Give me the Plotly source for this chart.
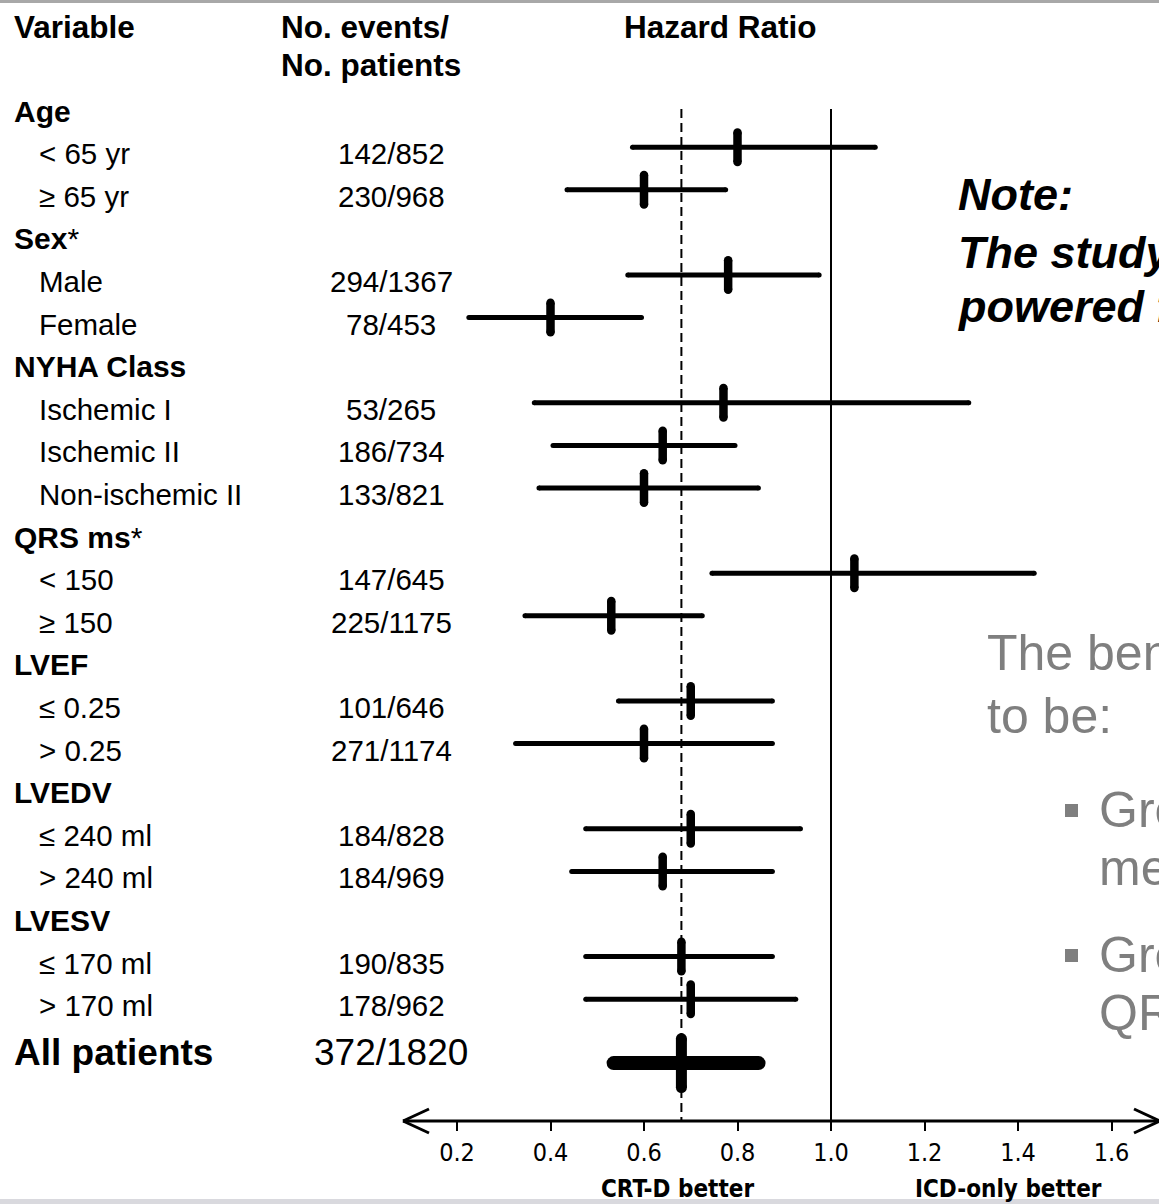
import plotly.graph_objects as go

# ---------------- data ----------------
group_names = ["Age", "Sex", "NYHA Class", "QRS ms", "LVEF", "LVEDV", "LVESV"]
group_flags = ["", "*", "", "*", "", "", ""]          # significant interaction
group_sizes = [2, 2, 3, 2, 2, 2, 2]

subgroups = ["< 65 yr", "≥ 65 yr", "Male", "Female", "Ischemic I", "Ischemic II",
             "Non-ischemic II", "< 150", "≥ 150", "≤ 0.25", "> 0.25",
             "≤ 240 ml", "> 240 ml", "≤ 170 ml", "> 170 ml"]
events = [142, 230, 294, 78, 53, 186, 133, 147, 225, 101, 271, 184, 184, 190, 178]
patients = [852, 968, 1367, 453, 265, 734, 821, 645, 1175, 646, 1174, 828, 969, 835, 962]
hazard_ratio = [0.80, 0.60, 0.78, 0.40, 0.77, 0.64, 0.60, 1.05, 0.53, 0.70, 0.60,
                0.70, 0.64, 0.68, 0.70]
ci_low = [0.57, 0.43, 0.56, 0.22, 0.36, 0.40, 0.37, 0.74, 0.34, 0.54, 0.32,
          0.47, 0.44, 0.47, 0.47]
ci_high = [1.10, 0.78, 0.98, 0.60, 1.30, 0.80, 0.85, 1.44, 0.73, 0.88, 0.88,
           0.94, 0.88, 0.88, 0.93]

overall_label = "All patients"
overall_events = 372
overall_patients = 1820
overall_hr = 0.68
overall_low = 0.52
overall_high = 0.86

tick_values = [0.2, 0.4, 0.6, 0.8, 1.0, 1.2, 1.4, 1.6]
tick_labels = ["0.2", "0.4", "0.6", "0.8", "1.0", "1.2", "1.4", "1.6"]

# ---------------- geometry ----------------
W, H = 1159, 1204
AXIS_Y = 1121                  # pixel row of the hazard-ratio axis
ROW_TOP, ROW_STEP = 111, 42.6  # first table row and row pitch (px)
ONE_X, UNIT_PX = 831, 467.5    # pixel column of HR = 1 and px per HR unit
MARK_SHIFT = -0.15             # CI bars sit a little above the text rows
BAR_HALF = 19 / ROW_STEP       # half height of the estimate tick

SANS = "Liberation Sans, Arial, sans-serif"
NARROW = "DejaVu Sans Condensed, Liberation Sans Narrow, Arial Narrow, sans-serif"
GREY = "#7f7f7f"


def px_x(p):
    return p / W


def px_y(p):
    return (AXIS_Y - p) / AXIS_Y


# assign table rows
group_rows, sub_rows = [], []
row = 0
for n in group_sizes:
    group_rows.append(row)
    row += 1
    for _ in range(n):
        sub_rows.append(row)
        row += 1
overall_row = row

fig = go.Figure()


def rounded_segment(xs, ys, width, horizontal):
    """Thick black segments with round end caps (line + cap dots)."""
    lx, ly, dx, dy = [], [], [], []
    for (a, b), y in zip(xs, ys):
        if horizontal:
            r = width / 2 / UNIT_PX
            a2, b2 = a + r, b - r
            lx += [a2, b2, None]
            ly += [y, y, None]
            dx += [a2, b2]
            dy += [y, y]
        else:
            r = width / 2 / ROW_STEP
            y0, y1 = b[0] + r, b[1] - r
            lx += [a, a, None]
            ly += [y0, y1, None]
            dx += [a, a]
            dy += [y0, y1]
    fig.add_trace(go.Scatter(x=lx, y=ly, mode="lines",
                             line=dict(color="black", width=width), hoverinfo="skip"))
    fig.add_trace(go.Scatter(x=dx, y=dy, mode="markers",
                             marker=dict(color="black", size=width, line=dict(width=0)),
                             hoverinfo="skip"))


# confidence intervals
rounded_segment(list(zip(ci_low, ci_high)), [r + MARK_SHIFT for r in sub_rows],
                5, horizontal=True)
# point estimates as short vertical bars
rounded_segment([(h, (r + MARK_SHIFT - BAR_HALF, r + MARK_SHIFT + BAR_HALF))
                 for h, r in zip(hazard_ratio, sub_rows)],
                [None] * len(sub_rows), 8.5, horizontal=False)

# overall estimate
ov_y = overall_row + 0.35
ov_half = 30 / ROW_STEP
rounded_segment([(overall_low, overall_high)], [ov_y], 14, horizontal=True)
rounded_segment([(overall_hr, (ov_y - ov_half, ov_y + ov_half))], [None], 11,
                horizontal=False)

y_bottom = (AXIS_Y - ROW_TOP) / ROW_STEP
y_top = -ROW_TOP / ROW_STEP
line_top = (109 - ROW_TOP) / ROW_STEP

shapes = [
    # line of no effect
    dict(type="line", xref="x", yref="y", x0=1.0, x1=1.0, y0=line_top, y1=y_bottom,
         line=dict(color="black", width=2), layer="below"),
    # overall hazard ratio reference
    dict(type="line", xref="x", yref="y", x0=overall_hr, x1=overall_hr,
         y0=line_top, y1=y_bottom,
         line=dict(color="black", width=2, dash="9px,5px"), layer="below"),
    # axis line with arrows at both ends
    dict(type="line", xref="paper", yref="paper", x0=px_x(403), x1=px_x(1160),
         y0=0, y1=0, line=dict(color="black", width=3)),
    dict(type="line", xref="paper", yref="paper", x0=px_x(403), x1=px_x(429),
         y0=0, y1=12 / AXIS_Y, line=dict(color="black", width=3)),
    dict(type="line", xref="paper", yref="paper", x0=px_x(403), x1=px_x(429),
         y0=0, y1=-12 / AXIS_Y, line=dict(color="black", width=3)),
    dict(type="line", xref="paper", yref="paper", x0=px_x(1160), x1=px_x(1134),
         y0=0, y1=12 / AXIS_Y, line=dict(color="black", width=3)),
    dict(type="line", xref="paper", yref="paper", x0=px_x(1160), x1=px_x(1134),
         y0=0, y1=-12 / AXIS_Y, line=dict(color="black", width=3)),
    # slide frame strips
    dict(type="rect", xref="paper", yref="paper", x0=0, x1=1, y0=px_y(0), y1=px_y(3),
         fillcolor="#a8a8a8", line=dict(width=0)),
    dict(type="rect", xref="paper", yref="paper", x0=0, x1=1, y0=px_y(1199),
         y1=px_y(1204), fillcolor="#d9d9de", line=dict(width=0)),
    # bullet squares
    dict(type="rect", xref="paper", yref="paper", x0=px_x(1065), x1=px_x(1078),
         y0=px_y(804), y1=px_y(817), fillcolor=GREY, line=dict(width=0)),
    dict(type="rect", xref="paper", yref="paper", x0=px_x(1065), x1=px_x(1078),
         y0=px_y(949), y1=px_y(962), fillcolor=GREY, line=dict(width=0)),
]

ann = []


def text(t, x, y, size, yref="y", xanchor="left", color="black", family=SANS):
    ann.append(dict(text=t, x=x, y=y, xref="paper", yref=yref, xanchor=xanchor,
                    yanchor="middle", showarrow=False,
                    font=dict(family=family, size=size, color=color)))


BODY = 29.5
HEAD = 31.5
GROUP = 30
# column headers
text("<b>Variable</b>", px_x(12), px_y(27), HEAD, yref="paper")
text("<b>No. events/</b>", px_x(279), px_y(27), HEAD, yref="paper")
text("<b>No. patients</b>", px_x(279), px_y(65), HEAD, yref="paper")
text("<b>Hazard Ratio</b>", px_x(720), px_y(27), HEAD, yref="paper", xanchor="center")

for name, flag, r in zip(group_names, group_flags, group_rows):
    text(f"<b>{name}</b>{flag}", px_x(12), r, GROUP)
for name, ev, n, r in zip(subgroups, events, patients, sub_rows):
    text(name, px_x(37), r, BODY)
    text(f"{ev}/{n}", px_x(391), r, BODY, xanchor="center")

text(f"<b>{overall_label}</b>", px_x(12), overall_row + 0.1, 37)
text(f"{overall_events}/{overall_patients}", px_x(391), overall_row + 0.1, 37,
     xanchor="center")

# axis captions
text("<b>CRT-D better</b>", px_x(677), px_y(1189), 24, yref="paper",
     xanchor="center", family=NARROW)
text("<b>ICD-only better</b>", px_x(1008), px_y(1189), 24, yref="paper",
     xanchor="center", family=NARROW)

# side notes
text("<b><i>Note:</i></b>", px_x(956), px_y(195), 45, yref="paper")
text("<b><i>The study was not</i></b>", px_x(956), px_y(252), 45, yref="paper")
text("<b><i>powered for subgroups</i></b>", px_x(956), px_y(306), 45, yref="paper")

text("The benefit of CRT-D appeared", px_x(985), px_y(653), 50, yref="paper", color=GREY)
text("to be:", px_x(985), px_y(716), 50, yref="paper", color=GREY)
text("Greater in women than", px_x(1097), px_y(810), 50, yref="paper", color=GREY)
text("men", px_x(1097), px_y(868), 50, yref="paper", color=GREY)
text("Greater in patients with", px_x(1097), px_y(955), 50, yref="paper", color=GREY)
text("QRS ≥ 150 ms", px_x(1097), px_y(1013), 50, yref="paper", color=GREY)

fig.update_layout(
    width=W, height=H,
    margin=dict(l=0, r=0, t=0, b=H - AXIS_Y, pad=0),
    paper_bgcolor="white", plot_bgcolor="white",
    showlegend=False, hovermode=False,
    shapes=shapes, annotations=ann,
    xaxis=dict(range=[1 - ONE_X / UNIT_PX, 1 + (W - ONE_X) / UNIT_PX],
               tickvals=tick_values, ticktext=tick_labels,
               ticks="outside", ticklen=9, tickwidth=2, tickcolor="black",
               tickfont=dict(family=NARROW, size=25, color="black"),
               showgrid=False, zeroline=False, showline=False, fixedrange=True),
    yaxis=dict(range=[y_bottom, y_top], visible=False, fixedrange=True),
)

fig.write_html("out.html", config={"displayModeBar": False, "staticPlot": True})
